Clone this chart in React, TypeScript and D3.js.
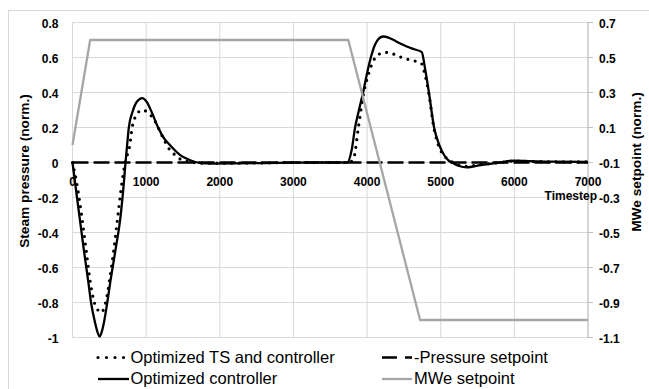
import React from "react";
import * as d3 from "d3";

// Optimized controller (solid)
const ctrlTime = [0, 36, 95, 154, 217, 253, 308, 340, 367, 395, 425, 471, 511, 584, 652, 697, 720, 742, 765, 815, 870, 946, 1010, 1073, 1163, 1240, 1322, 1390, 1458, 1540, 1617, 1700, 1753, 1900, 2200, 2600, 3000, 3400, 3731, 3790, 3836, 3890, 3949, 4000, 4049, 4107, 4160, 4220, 4290, 4356, 4450, 4538, 4640, 4742, 4790, 4840, 4910, 4980, 5050, 5110, 5150, 5250, 5353, 5450, 5560, 5670, 5800, 5987, 6200, 6500, 7000];
const ctrlValue = [0, -0.118, -0.309, -0.499, -0.689, -0.803, -0.918, -0.97, -0.994, -0.97, -0.918, -0.803, -0.689, -0.499, -0.309, -0.118, 0, 0.101, 0.2, 0.29, 0.345, 0.368, 0.345, 0.29, 0.2, 0.14, 0.1, 0.07, 0.044, 0.024, 0.01, 0, -0.004, -0.006, -0.005, -0.003, -0.001, 0, 0, 0.07, 0.197, 0.3, 0.406, 0.51, 0.597, 0.673, 0.708, 0.72, 0.714, 0.701, 0.68, 0.663, 0.647, 0.631, 0.53, 0.4, 0.2, 0.1, 0.04, 0.01, 0, -0.02, -0.028, -0.022, -0.014, -0.008, 0, 0.01, 0.008, 0.005, 0.004];

// Optimized TS and controller (dotted)
const tsTime = [0, 58, 126, 185, 244, 290, 340, 389, 430, 470, 511, 561, 615, 670, 715, 779, 810, 846, 900, 960, 1030, 1095, 1163, 1254, 1322, 1390, 1458, 1550, 1650, 1800, 2200, 2600, 3000, 3400, 3760, 3822, 3881, 3958, 4016, 4084, 4150, 4220, 4288, 4400, 4492, 4600, 4696, 4740, 4787, 4840, 4900, 4967, 5058, 5150, 5250, 5353, 5450, 5560, 5670, 5800, 5987, 6200, 6500, 7000];
const tsValue = [0, -0.118, -0.309, -0.499, -0.689, -0.79, -0.84, -0.857, -0.83, -0.76, -0.65, -0.499, -0.309, -0.118, 0, 0.101, 0.2, 0.254, 0.29, 0.301, 0.28, 0.254, 0.2, 0.12, 0.072, 0.044, 0.021, 0.007, 0, -0.004, -0.004, -0.002, 0, 0, 0, 0.03, 0.197, 0.406, 0.5, 0.58, 0.615, 0.627, 0.629, 0.612, 0.597, 0.585, 0.574, 0.565, 0.5, 0.39, 0.215, 0.1, 0.034, 0.004, -0.015, -0.022, -0.018, -0.012, -0.006, 0, 0.008, 0.006, 0.004, 0.003];

// Pressure setpoint (dashed)
const spTime = [0, 7000];
const spValue = [0, 0];

// MWe setpoint (gray, secondary axis)
const mweTime = [0, 240, 3745, 4720, 7000];
const mweValue = [0, 0.6, 0.6, -1.0, -1.0];

const xTicks = [0, 1000, 2000, 3000, 4000, 5000, 6000, 7000];
const leftTicks = [0.8, 0.6, 0.4, 0.2, 0, -0.2, -0.4, -0.6, -0.8, -1];
const rightTicks = [0.7, 0.5, 0.3, 0.1, -0.1, -0.3, -0.5, -0.7, -0.9, -1.1];

const FF = "'Liberation Sans', Arial, sans-serif";

export default function App() {
  const W = 649, H = 389;
  const x = d3.scaleLinear().domain([0, 7000]).range([72.5, 588]);
  const yL = d3.scaleLinear().domain([-1, 0.8]).range([337.5, 22.5]);
  const yR = d3.scaleLinear().domain([-1.1, 0.7]).range([337.5, 22.5]);

  const mk = (ts: number[], vs: number[], ys: (v: number) => number, curve: any) =>
    d3.line<number>().x((_, i) => x(ts[i])).y((_, i) => ys(vs[i])).curve(curve)(vs.map((_, i) => i)) || "";

  const ctrlPath = mk(ctrlTime, ctrlValue, yL, d3.curveMonotoneX);
  const tsPath = mk(tsTime, tsValue, yL, d3.curveMonotoneX);
  const spPath = mk(spTime, spValue, yL, d3.curveLinear);
  const mwePath = mk(mweTime, mweValue, yR, d3.curveLinear);

  const grid = "#d9d9d9";

  return (
    <svg width={W} height={H} style={{ position: "absolute", left: 0, top: 0, background: "#fff" }} fontFamily={FF}>
      <rect x={0} y={0} width={W} height={H} fill="#fff" />
      <rect x={8.5} y={10.5} width={700} height={500} fill="none" stroke={grid} strokeWidth={1} />
      {/* gridlines */}
      {leftTicks.map((v) => (
        <line key={"h" + v} x1={x(0)} x2={x(7000)} y1={yL(v)} y2={yL(v)} stroke={grid} strokeWidth={1} />
      ))}
      {xTicks.map((v) => (
        <line key={"v" + v} x1={x(v)} x2={x(v)} y1={yL(0.8)} y2={yL(-1)} stroke={grid} strokeWidth={1} />
      ))}
      {/* right axis */}
      <line x1={588} x2={588} y1={yR(0.7)} y2={yR(-1.1)} stroke="#bfbfbf" strokeWidth={1} />
      {rightTicks.map((v) => (
        <line key={"rt" + v} x1={588} x2={593} y1={yR(v)} y2={yR(v)} stroke="#bfbfbf" strokeWidth={1} />
      ))}
      {/* tick labels */}
      {leftTicks.map((v) => (
        <text key={"lt" + v} x={58.5} y={yL(v) + 5.5} textAnchor="end" fontSize={12} fontWeight="bold" fill="#000">
          {String(v)}
        </text>
      ))}
      {rightTicks.map((v) => (
        <text key={"rl" + v} x={599} y={yR(v) + 5.5} textAnchor="start" fontSize={12} fontWeight="bold" fill="#000">
          {String(v)}
        </text>
      ))}
      {xTicks.map((v) => (
        <text key={"xl" + v} x={x(v)} y={186} textAnchor="middle" fontSize={12} fontWeight="bold" fill="#000">
          {String(v)}
        </text>
      ))}
      <text x={597} y={199.5} textAnchor="end" fontSize={12} fontWeight="bold">Timestep</text>
      <text transform="translate(24,171) rotate(-90)" textAnchor="middle" dominantBaseline="central" fontSize={13.7} fontWeight="bold">
        Steam pressure (norm.)
      </text>
      <text transform="translate(636,162) rotate(-90)" textAnchor="middle" dominantBaseline="central" fontSize={13.7} fontWeight="bold">
        MWe setpoint (norm.)
      </text>
      {/* series */}
      <path d={spPath} fill="none" stroke="#000" strokeWidth={2.3} strokeDasharray="16 5" />
      <path d={ctrlPath} fill="none" stroke="#000" strokeWidth={2.3} strokeLinejoin="round" />
      <path d={tsPath} fill="none" stroke="#000" strokeWidth={3.2} strokeDasharray="0 7.5" strokeLinecap="round" />
      <path d={mwePath} fill="none" stroke="#a6a6a6" strokeWidth={2.3} strokeLinejoin="round" />
      {/* legend */}
      <line x1={98} x2={126} y1={357.5} y2={357.5} stroke="#000" strokeWidth={3.2} strokeDasharray="0 8.5" strokeLinecap="round" />
      <text x={130.5} y={363} fontSize={16.5}>Optimized TS and controller</text>
      <line x1={98} x2={129} y1={379} y2={379} stroke="#000" strokeWidth={2.3} />
      <text x={130.5} y={384} fontSize={16.5}>Optimized controller</text>
      <line x1={382} x2={412} y1={357.5} y2={357.5} stroke="#000" strokeWidth={2.3} strokeDasharray="15 8" />
      <text x={414} y={363} fontSize={16.5}>-Pressure setpoint</text>
      <line x1={382} x2={412} y1={379} y2={379} stroke="#a6a6a6" strokeWidth={2.3} />
      <text x={414} y={384} fontSize={16.5}>MWe setpoint</text>
    </svg>
  );
}
